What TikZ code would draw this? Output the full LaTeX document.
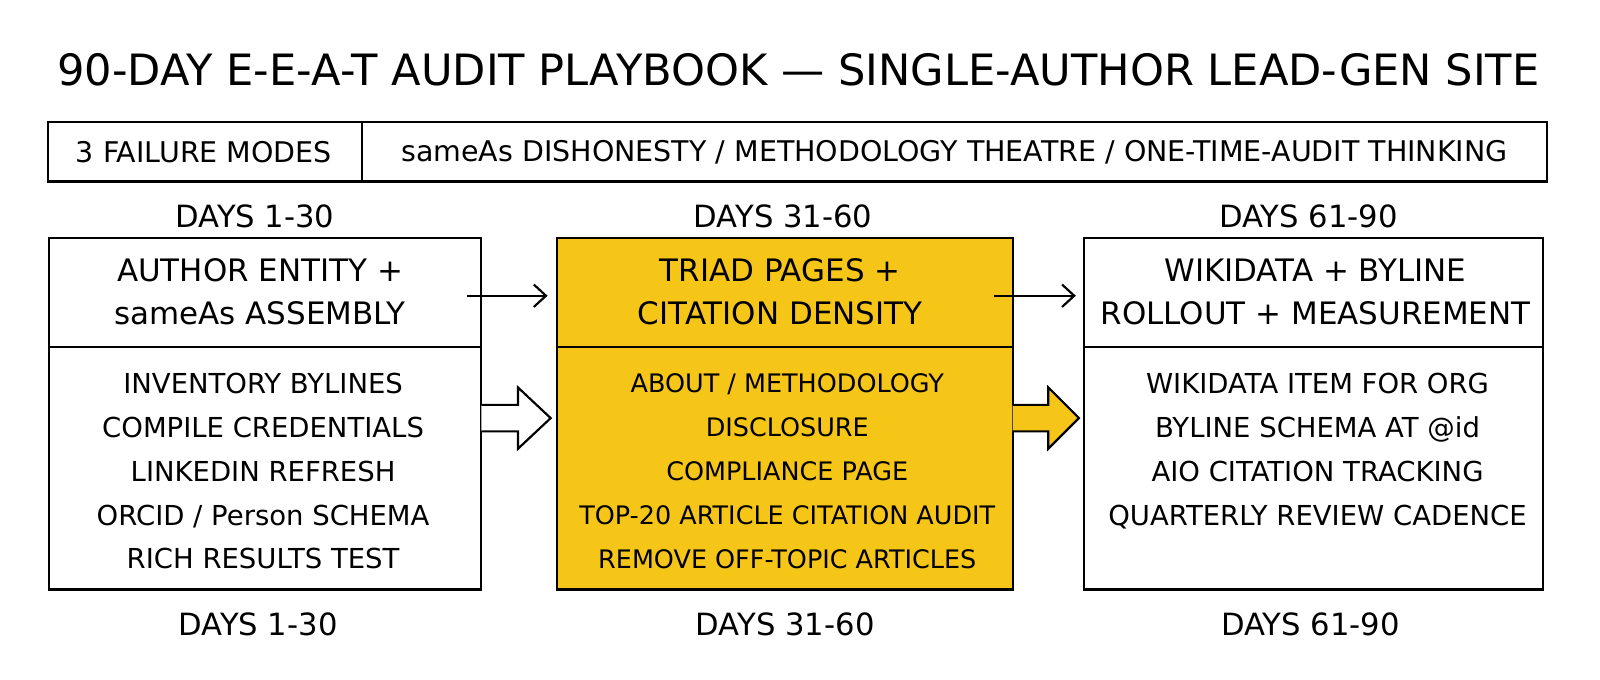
\documentclass[tikz,border=0pt]{standalone}
\usepackage{fontspec}
\setmainfont{DejaVu Sans}
\usetikzlibrary{arrows.meta}
\definecolor{yel}{HTML}{F5C518}
\begin{document}
\begin{tikzpicture}[x=0.7087pt,y=-0.7087pt,
  box/.style={draw=black,line width=1.5pt},
  hd/.style={font=\fontsize{21.5}{29.8}\selectfont,align=center},
  ls/.style={font=\fontsize{19.1}{30.5}\selectfont,align=center},
  dl/.style={font=\fontsize{21.3}{24}\selectfont},
  arr/.style={line width=1.5pt,-{Straight Barb[length=8.5pt,width=15.6pt]}},
  blk/.style={draw=black,line width=1.5pt,line join=miter}]
\useasboundingbox (0,0) rectangle (1569,666);
\node[font=\fontsize{30}{34}\selectfont] (title) at (783,68) {90-DAY E-E-A-T AUDIT PLAYBOOK — SINGLE-AUTHOR LEAD-GEN SITE};
\draw[box] (47,120) rectangle (1517,178);
\draw[box] (355,120) -- (355,178);
\node[font=\fontsize{19.8}{22}\selectfont] (fm) at (200,149) {3 FAILURE MODES};
\node[font=\fontsize{19.8}{22}\selectfont] (fl) at (936,149) {sameAs DISHONESTY / METHODOLOGY THEATRE / ONE-TIME-AUDIT THINKING};
\node[dl] (t1) at (250,212) {DAYS 1-30};
\node[dl] (t2) at (768,212) {DAYS 31-60};
\node[dl] (t3) at (1283,212) {DAYS 61-90};
\node[dl] (b1) at (253,612) {DAYS 1-30};
\node[dl] (b2) at (770,612) {DAYS 31-60};
\node[dl] (b3) at (1285,612) {DAYS 61-90};
% boxes
\draw[box] (48,233) rectangle (472,578); \draw[box] (48,340) -- (472,340);
\draw[box,fill=yel] (546,233) rectangle (993,578); \draw[box] (546,340) -- (993,340);
\draw[box] (1063,233) rectangle (1513,578); \draw[box] (1063,340) -- (1513,340);
\node[hd] (h1) at (255,286) {AUTHOR ENTITY +\\sameAs ASSEMBLY};
\node[hd] (h2) at (765,286) {TRIAD PAGES +\\CITATION DENSITY};
\node[hd] (h3) at (1290,286) {WIKIDATA + BYLINE\\ROLLOUT + MEASUREMENT};
\node[ls] (l1) at (258,462) {INVENTORY BYLINES\\COMPILE CREDENTIALS\\LINKEDIN REFRESH\\ORCID / Person SCHEMA\\RICH RESULTS TEST};
\node[ls,font=\fontsize{17.7}{30.5}\selectfont] (l2) at (772,462) {ABOUT / METHODOLOGY\\DISCLOSURE\\COMPLIANCE PAGE\\TOP-20 ARTICLE CITATION AUDIT\\REMOVE OFF-TOPIC ARTICLES};
\node[ls] (l3) at (1292,442) {WIKIDATA ITEM FOR ORG\\BYLINE SCHEMA AT @id\\AIO CITATION TRACKING\\QUARTERLY REVIEW CADENCE};
\coordinate (a1s) at (458,290); \coordinate (a1e) at (537,290);
\coordinate (a2s) at (975,290); \coordinate (a2e) at (1055,290);
\draw[arr] (a1s) -- (a1e);
\draw[arr] (a2s) -- (a2e);
\draw[blk,fill=white] (472,397) -- (508,397) -- (508,380) -- (540,410) -- (508,440) -- (508,423) -- (472,423);
\draw[blk,fill=yel] (993,397) -- (1028,397) -- (1028,380) -- (1058,410) -- (1028,440) -- (1028,423) -- (993,423);
\end{tikzpicture}
\end{document}
